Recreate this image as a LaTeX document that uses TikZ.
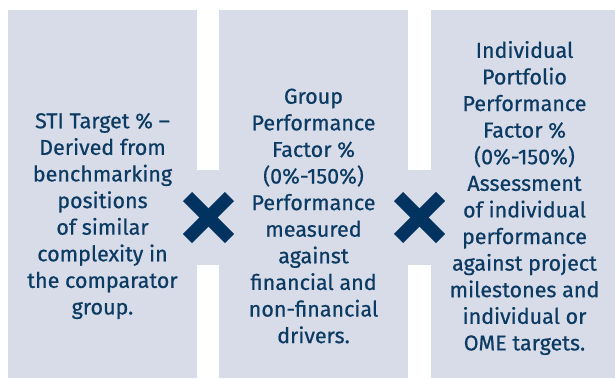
\documentclass[tikz,border=0pt]{standalone}
\usepackage{fontspec}
\setmainfont{Fira Sans}
\newfontface\medfont{Fira Sans}[FakeBold=0.6]
\definecolor{panel}{HTML}{D8DCE8}
\definecolor{navy}{HTML}{0B3A63}
\definecolor{xnavy}{HTML}{00335F}
\tikzset{
  panelbox/.style={fill=panel, draw=none},
  paneltext/.style={text=navy, align=center, font=\medfont\fontsize{21.5}{26.6}\selectfont, inner sep=0pt},
  xbar/.style={draw=xnavy, line width=13pt, line cap=butt}
}
\begin{document}
\begin{tikzpicture}[x=1pt,y=-1pt]
\useasboundingbox (0,0) rectangle (615,378);
\fill[white] (0,0) rectangle (615,378);
\fill[panelbox] (8,10) rectangle (197,378);
\fill[panelbox] (219,10) rectangle (408,378);
\fill[panelbox] (431,10) rectangle (615,378);
\fill[panelbox] (8,170) rectangle (615,265);
\node[paneltext] (t1) at (102.5,216) {STI Target \% –\\Derived from\\benchmarking\\positions\\of similar\\complexity in\\the comparator\\group.};
\node[paneltext] (t2) at (313.5,216) {Group\\Performance\\Factor \%\\(0\%-150\%)\\Performance\\measured\\against\\financial and\\non-financial\\drivers.};
\node[paneltext] (t3) at (524.5,198) {Individual\\Portfolio\\Performance\\Factor \%\\(0\%-150\%)\\Assessment\\of individual\\performance\\against project\\milestones and\\individual or\\OME targets.};
\coordinate (x1) at (208.5,217.5);
\coordinate (x2) at (419.5,217.5);
\draw[xbar] ([shift={(-21,-21)}]x1) -- ([shift={(21,21)}]x1);
\draw[xbar] ([shift={(-21,21)}]x1) -- ([shift={(21,-21)}]x1);
\draw[xbar] ([shift={(-21,-21)}]x2) -- ([shift={(21,21)}]x2);
\draw[xbar] ([shift={(-21,21)}]x2) -- ([shift={(21,-21)}]x2);
\end{tikzpicture}
\end{document}
